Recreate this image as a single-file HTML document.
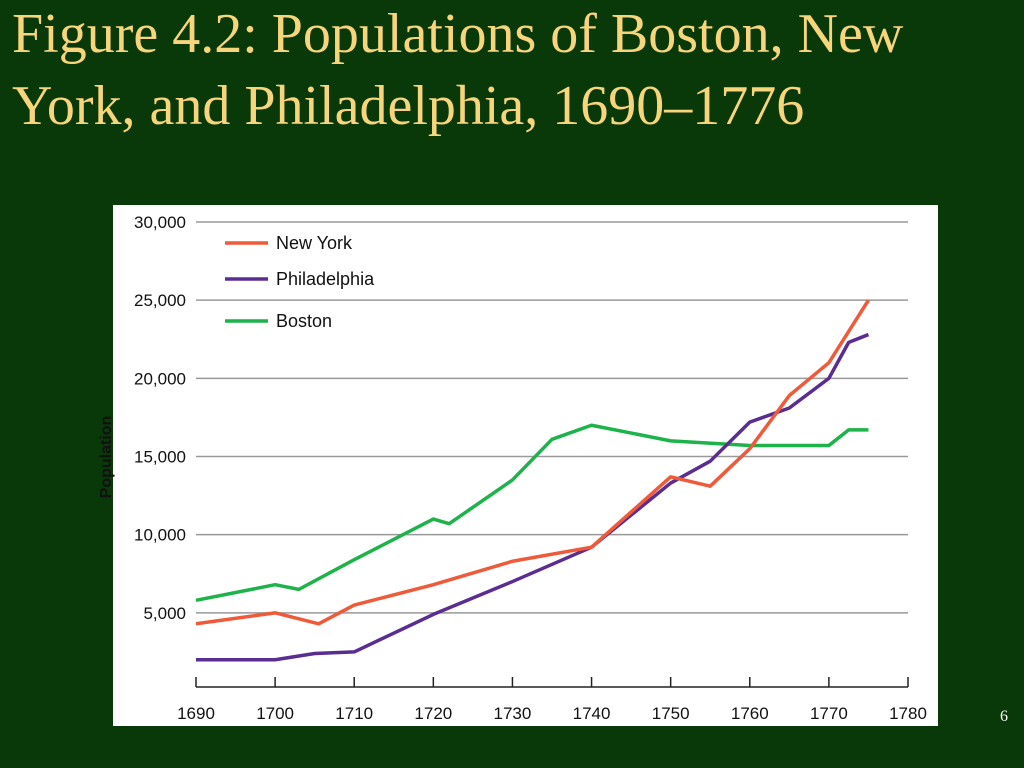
<!DOCTYPE html>
<html><head><meta charset="utf-8"><style>
body{margin:0;width:1024px;height:768px;background:#093909;overflow:hidden;font-family:"Liberation Serif",serif}
h1{position:absolute;left:12px;top:-2px;margin:0;font-weight:normal;color:#f7d57a;font-size:56px;line-height:72px;width:1010px;white-space:nowrap}
.pg{position:absolute;left:1000px;top:708px;color:#fff;font-size:16px}
svg{position:absolute;left:0;top:0}
</style></head><body>
<h1>Figure 4.2: Populations of Boston, New<br>York, and Philadelphia, 1690–1776</h1>
<div class="pg">6</div>
<svg id="c" width="1024" height="768" font-family="Liberation Sans, sans-serif">
<rect x="113" y="205" width="825" height="521" fill="#fff"/>
</svg>
<script>
const xTicks=[1690,1700,1710,1720,1730,1740,1750,1760,1770,1780];
const yTicks=[5000,10000,15000,20000,25000,30000];
const nyYears=[1690,1700,1705.5,1710,1720,1730,1740,1750,1755,1760,1765,1770,1775];
const nyPop=[4300,5000,4300,5500,6800,8300,9200,13700,13100,15500,18900,21000,25000];
const phYears=[1690,1700,1705,1710,1720,1730,1740,1750,1755,1760,1765,1770,1772.5,1775];
const phPop=[2000,2000,2400,2500,4900,7000,9200,13300,14700,17200,18100,20000,22300,22800];
const boYears=[1690,1700,1703,1710,1720,1722,1730,1735,1740,1750,1760,1770,1772.5,1775];
const boPop=[5800,6800,6500,8400,11000,10700,13500,16100,17000,16000,15700,15700,16700,16700];
const svg=document.getElementById('c');const NS='http://www.w3.org/2000/svg';
const X=y=>196+(y-1690)*(908-196)/90;
const Y=v=>691-v*(691-222)/30000;
function mk(t,a,p){const e=document.createElementNS(NS,t);for(const k in a)e.setAttribute(k,a[k]);(p||svg).appendChild(e);return e;}
yTicks.forEach(v=>{
const g=mk('line',{x1:196,x2:908,y1:Y(v),y2:Y(v),stroke:'#999','stroke-width':1.5});


const t=mk('text',{x:186,y:Y(v)+6,'text-anchor':'end','font-size':17,fill:'#111'});t.textContent=v.toLocaleString('en-US');


});
const ax=mk('line',{x1:196,x2:908,y1:687,y2:687,stroke:'#222','stroke-width':1.5});


xTicks.forEach(v=>{
const l=mk('line',{x1:X(v),x2:X(v),y1:677,y2:687,stroke:'#222','stroke-width':1.5});


const t=mk('text',{x:X(v),y:719,'text-anchor':'middle','font-size':17,fill:'#111'});t.textContent=v;


});
const yt=mk('text',{x:0,y:0,transform:'translate(111,457) rotate(-90)','text-anchor':'middle','font-size':16,'font-weight':'bold',fill:'#111'});yt.textContent='Population';


function series(xs,vs,col,name){
const p=mk('polyline',{points:xs.map((x,i)=>X(x)+','+Y(vs[i])).join(' '),fill:'none',stroke:col,'stroke-width':3.5,'stroke-linejoin':'round'});


}
series(boYears,boPop,'#1db34a','boston');
series(phYears,phPop,'#5a2d91','philadelphia');
series(nyYears,nyPop,'#ef5a3a','new-york');
[['New York','#ef5a3a',243],['Philadelphia','#5a2d91',279],['Boston','#1db34a',321]].forEach(([n,c,y])=>{
const l=mk('line',{x1:225,x2:268,y1:y,y2:y,stroke:c,'stroke-width':3.5});


const t=mk('text',{x:276,y:y+6,'font-size':18,fill:'#111'});t.textContent=n;


});
</script>
</body></html>
